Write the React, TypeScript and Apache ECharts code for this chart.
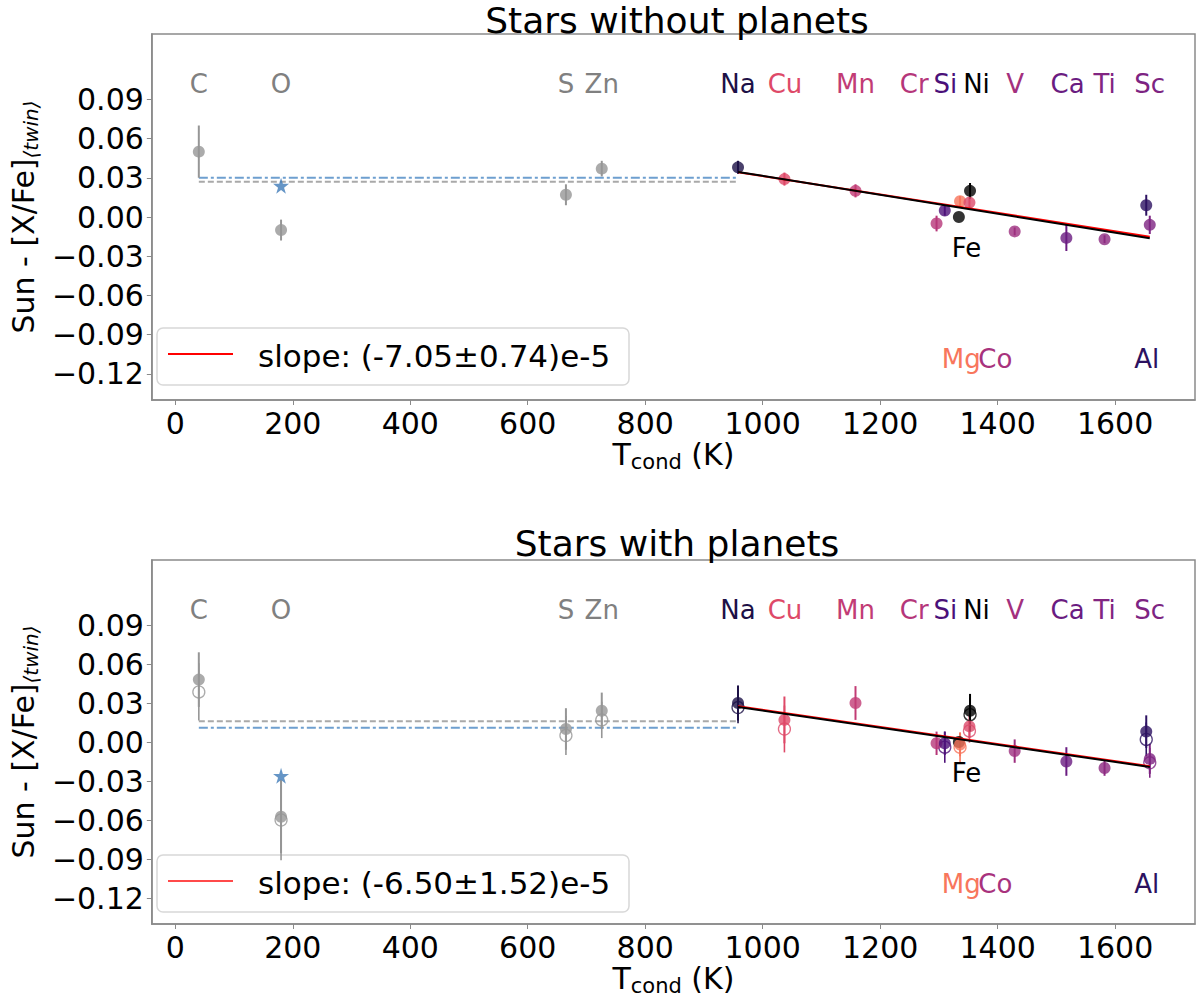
import * as echarts from "echarts";
import { useEffect, useRef } from "react";

// condensation temperatures (K) and element names
const elements = ["C", "O", "S", "Zn", "Na", "Cu", "Mn", "Cr", "Si", "Fe", "Mg", "Co", "Ni", "V", "Ca", "Ti", "Al", "Sc"];
const tcond = [40, 180, 665, 726, 958, 1037, 1158, 1296, 1310, 1334, 1336, 1352, 1353, 1429, 1517, 1582, 1653, 1659];
const pointColors = [
  "#969696", "#969696", "#969696", "#969696", "#1d1147", "#de4968", "#c23c75", "#b63779", "#4e1279",
  "#000000", "#f8765c", "#dc4a6a", "#000000", "#9d2f7f", "#6a1c81", "#8c2981", "#2d1262", "#7e2482",
];
const labelColors = [
  "#808080", "#808080", "#808080", "#808080", "#1d1147", "#de4968", "#c23c75", "#b5367a", "#4a1079",
  "#000000", "#f8765c", "#a8327d", "#000000", "#a3307e", "#6a1c81", "#822581", "#2c1160", "#7d2482",
];
// where each name is written (T, y)
const labelT = [40, 180, 665, 726, 958, 1038, 1158, 1258, 1311, 1347, 1338, 1396, 1364, 1430, 1519, 1582, 1654, 1659];
const labelY = [
  0.1015, 0.1015, 0.1015, 0.1015, 0.1015, 0.1015, 0.1015, 0.1015, 0.1015,
  -0.024, -0.109, -0.109, 0.1015, 0.1015, 0.1015, 0.1015, -0.109, 0.1015,
];

// Stars without planets
const noPlanetVal = [0.050, -0.010, 0.017, 0.037, 0.038, 0.029, 0.020, -0.005, 0.005, 0.000, 0.012, 0.011, 0.020, -0.011, -0.016, -0.017, 0.009, -0.006];
const noPlanetErr = [0.020, 0.008, 0.008, 0.006, 0.005, 0.005, 0.005, 0.006, 0.004, 0.0, 0.004, 0.004, 0.006, 0.003, 0.010, 0.003, 0.008, 0.007];
const noPlanetStar = 0.024;
const noPlanetBlueLevel = 0.030;
const noPlanetGreyLevel = 0.027;
const noPlanetFitRed = [0.0343, -0.0151];
const noPlanetFitBlack = [0.0345, -0.0163];
const noPlanetSlope = "slope: (-7.05±0.74)e-5";

// Stars with planets
const planetVal = [0.048, -0.0575, 0.010, 0.024, 0.030, 0.017, 0.030, -0.001, -0.001, 0.000, -0.002, 0.012, 0.024, -0.007, -0.015, -0.020, 0.008, -0.013];
const planetErr = [0.021, 0.028, 0.016, 0.014, 0.0135, 0.018, 0.013, 0.009, 0.009, 0.0, 0.009, 0.009, 0.013, 0.009, 0.011, 0.006, 0.0125, 0.0115];
const planetOpenVal = [0.0385, -0.060, 0.005, 0.017, 0.0265, 0.010, null, null, -0.004, null, -0.004, 0.0085, 0.021, null, null, null, 0.002, -0.016];
const planetOpenErr = [0.022, 0.031, 0.015, 0.014, 0.012, 0.018, 0, 0, 0.012, 0, 0.0115, 0.009, 0.013, 0, 0, 0, 0.013, 0.0115];
const planetStar = -0.026;
const planetBlueLevel = 0.011;
const planetGreyLevel = 0.016;
const planetFitRed = [0.0275, -0.0186];
const planetFitBlack = [0.0269, -0.0192];
const planetSlope = "slope: (-6.50±1.52)e-5";

const levelT = [40, 958];
const fitT = [958, 1659];
const xTicks = [0, 200, 400, 600, 800, 1000, 1200, 1400, 1600];
const yTicks = [-0.12, -0.09, -0.06, -0.03, 0, 0.03, 0.06, 0.09];

const FONT = "DejaVu Sans";
const STAR = "path://M50,0 L61,35 L98,35 L68,57 L79,91 L50,70 L21,91 L32,57 L2,35 L39,35 Z";
const SPINE = "#8a8a8a";

const fmtY = (v: number) => {
  const r = Math.round(v * 100) / 100;
  return (r < 0 ? "\u2212" : "") + Math.abs(r).toFixed(2);
};

function errSeries(idx: number, vals: (number | null)[], errs: number[], colors: string[], width: number) {
  const data: number[][] = [];
  const cols: string[] = [];
  vals.forEach((v, i) => {
    if (v === null || errs[i] === 0) return;
    data.push([tcond[i], v, errs[i]]);
    cols.push(colors[i]);
  });
  return {
    type: "custom",
    xAxisIndex: idx,
    yAxisIndex: idx,
    z: 2,
    encode: { x: 0, y: 1 },
    data,
    renderItem: (params: any, api: any) => {
      const x = api.value(0);
      const y = api.value(1);
      const e = api.value(2);
      const a = api.coord([x, y + e]);
      const b = api.coord([x, y - e]);
      return {
        type: "line",
        shape: { x1: a[0], y1: a[1], x2: b[0], y2: b[1] },
        style: { stroke: cols[params.dataIndex], lineWidth: width },
      };
    },
  };
}

function panelSeries(
  idx: number,
  vals: number[],
  errs: number[],
  openVals: (number | null)[] | null,
  openErrs: number[] | null,
  star: number,
  blue: number,
  grey: number,
  fitRed: number[],
  fitBlack: number[],
) {
  const series: any[] = [
    {
      type: "line",
      xAxisIndex: idx,
      yAxisIndex: idx,
      z: 1,
      symbol: "none",
      data: levelT.map((t) => [t, grey]),
      lineStyle: { color: "#a9a9a9", width: 2, type: [6, 3] },
    },
    {
      type: "line",
      xAxisIndex: idx,
      yAxisIndex: idx,
      z: 1,
      symbol: "none",
      data: levelT.map((t) => [t, blue]),
      lineStyle: { color: "#6e9fcf", width: 2, type: [9, 3, 3, 3] },
    },
    errSeries(idx, vals, errs, pointColors, 2),
  ];
  if (openVals && openErrs) {
    series.push(errSeries(idx, openVals, openErrs, pointColors, 1.6));
    series.push({
      type: "scatter",
      xAxisIndex: idx,
      yAxisIndex: idx,
      z: 3,
      symbolSize: 12,
      data: openVals
        .map((v, i) =>
          v === null
            ? null
            : {
                value: [tcond[i], v],
                itemStyle: { color: "rgba(255,255,255,0)", borderColor: pointColors[i], borderWidth: 1.3 },
              },
        )
        .filter((d) => d !== null),
    });
  }
  series.push(
    {
      type: "scatter",
      xAxisIndex: idx,
      yAxisIndex: idx,
      z: 4,
      symbolSize: 12,
      data: vals.map((v, i) => ({ value: [tcond[i], v], itemStyle: { color: pointColors[i] } })),
    },
    {
      type: "scatter",
      xAxisIndex: idx,
      yAxisIndex: idx,
      z: 5,
      symbol: STAR,
      symbolSize: 16,
      data: [[tcond[1], star]],
      itemStyle: { color: "#3f7bb8" },
    },
    {
      type: "line",
      xAxisIndex: idx,
      yAxisIndex: idx,
      z: 6,
      symbol: "none",
      data: fitT.map((t, i) => [t, fitRed[i]]),
      lineStyle: { color: "#ff0000", width: 2 },
    },
    {
      type: "line",
      xAxisIndex: idx,
      yAxisIndex: idx,
      z: 6,
      symbol: "none",
      data: fitT.map((t, i) => [t, fitBlack[i]]),
      lineStyle: { color: "#000000", width: 2 },
    },
    {
      type: "custom",
      xAxisIndex: idx,
      yAxisIndex: idx,
      z: 7,
      encode: { x: 0, y: 1 },
      data: labelT.map((t, i) => [t, labelY[i]]),
      renderItem: (params: any, api: any) => {
        const p = api.coord([api.value(0), api.value(1)]);
        const i = params.dataIndex;
        return {
          type: "text",
          x: p[0],
          y: p[1],
          style: {
            text: elements[i],
            fill: labelColors[i],
            fontSize: 26,
            fontFamily: FONT,
            align: "center",
            verticalAlign: "middle",
          },
        };
      },
    },
  );
  return series;
}

function legendGraphic(top: number, text: string, lineColor: string) {
  return {
    type: "group",
    z: 100,
    children: [
      {
        type: "rect",
        shape: { x: 157, y: top, width: 472, height: 57, r: 6 },
        style: { fill: "rgba(255,255,255,0.8)", stroke: "#d8d8d8", lineWidth: 1.5 },
      },
      {
        type: "line",
        shape: { x1: 168, y1: top + 26, x2: 233, y2: top + 26 },
        style: { stroke: lineColor, lineWidth: 2 },
      },
      {
        type: "text",
        x: 258,
        y: top + 28,
        style: { text, fontSize: 31, fontFamily: FONT, fill: "#000", verticalAlign: "middle" },
      },
    ],
  };
}

export default function App() {
  const ref = useRef<HTMLDivElement>(null);

  useEffect(() => {
    if (!ref.current) return;
    const chart = echarts.init(ref.current, undefined, { renderer: "svg" });

    const grids = [
      { left: 141, top: 34, width: 1054, height: 366 },
      { left: 141, top: 560, width: 1054, height: 367 },
    ];

    const xAxis = grids.map((_, i) => ({
      type: "value",
      gridIndex: i,
      min: -40,
      max: 1736,
      name: "{a|T}{b|cond}{a| (K)}",
      nameLocation: "middle",
      nameGap: 36,
      nameTextStyle: {
        rich: {
          a: { fontSize: 30, fontFamily: FONT, color: "#000", lineHeight: 36, verticalAlign: "middle" },
          b: { fontSize: 21, fontFamily: FONT, color: "#000", lineHeight: 14, verticalAlign: "bottom" },
        },
      },
      axisLine: { onZero: false, lineStyle: { color: SPINE, width: 1.5 } },
      axisTick: { show: true, length: 5, lineStyle: { color: SPINE }, customValues: xTicks },
      axisLabel: {
        fontSize: 30,
        fontFamily: FONT,
        color: "#000",
        margin: 8,
        customValues: xTicks,
        formatter: (v: number) => String(Math.round(v)),
      },
      splitLine: { show: false },
    }));

    const yAxis = grids.map((_, i) => ({
      type: "value",
      gridIndex: i,
      min: -0.14,
      max: 0.14,
      name: "{a|Sun - [X/Fe]}{b|\u27E8twin\u27E9}",
      nameLocation: "middle",
      nameRotate: 90,
      nameGap: 106,
      nameTextStyle: {
        rich: {
          a: { fontSize: 30, fontFamily: FONT, color: "#000", lineHeight: 36, verticalAlign: "middle" },
          b: { fontSize: 20, fontFamily: FONT, fontStyle: "italic", color: "#000", lineHeight: 14, verticalAlign: "bottom" },
        },
      },
      axisLine: { onZero: false, lineStyle: { color: SPINE, width: 1.5 } },
      axisTick: { show: true, length: 5, lineStyle: { color: SPINE }, customValues: yTicks },
      axisLabel: { fontSize: 30, fontFamily: FONT, color: "#000", margin: 8, customValues: yTicks, formatter: fmtY },
      splitLine: { show: false },
    }));

    chart.setOption({
      animation: false,
      backgroundColor: "#ffffff",
      grid: grids.map((g) => ({ ...g, show: true, borderColor: SPINE, borderWidth: 1.5, backgroundColor: "transparent" })),
      xAxis,
      yAxis,
      series: [
        ...panelSeries(0, noPlanetVal, noPlanetErr, null, null, noPlanetStar, noPlanetBlueLevel, noPlanetGreyLevel, noPlanetFitRed, noPlanetFitBlack),
        ...panelSeries(1, planetVal, planetErr, planetOpenVal, planetOpenErr, planetStar, planetBlueLevel, planetGreyLevel, planetFitRed, planetFitBlack),
      ],
      graphic: [
        {
          type: "text",
          x: 677,
          y: 20,
          style: { text: "Stars without planets", fontSize: 36, fontFamily: FONT, fill: "#000", align: "center", verticalAlign: "middle" },
        },
        {
          type: "text",
          x: 677,
          y: 543,
          style: { text: "Stars with planets", fontSize: 36, fontFamily: FONT, fill: "#000", align: "center", verticalAlign: "middle" },
        },
        legendGraphic(328, noPlanetSlope, "#ff0000"),
        legendGraphic(855, planetSlope, "#ff4a4a"),
      ],
    });

    return () => chart.dispose();
  }, []);

  return <div ref={ref} style={{ position: "absolute", left: 0, top: 0, width: 1200, height: 997 }} />;
}
